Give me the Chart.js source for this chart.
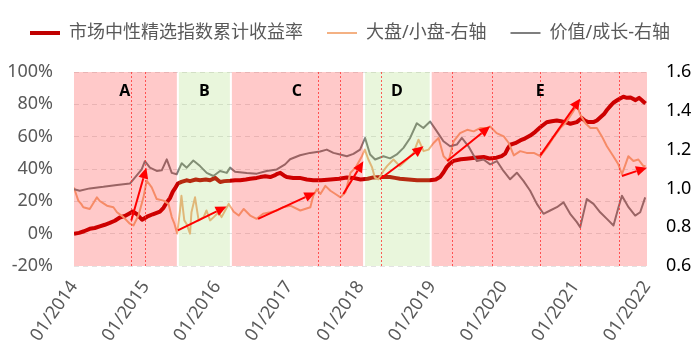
<!DOCTYPE html>
<html><head><meta charset="utf-8">
<script src="https://cdn.jsdelivr.net/npm/chart.js@4/dist/chart.umd.min.js"></script>
<style>html,body{margin:0;padding:0;background:#fff}#wrap{width:700px;height:358px}</style>
</head><body><div id="wrap"><canvas id="c" width="700" height="358"></canvas></div>
<script>
// ---------- DATA ----------
const seriesNames = ['市场中性精选指数累计收益率', '大盘/小盘-右轴', '价值/成长-右轴'];

// 市场中性精选指数累计收益率 (%), left axis
const neutralYears = [2014.00,2014.07,2014.14,2014.22,2014.29,2014.36,2014.43,2014.50,2014.57,2014.64,2014.71,2014.78,2014.82,2014.88,2014.95,2015.02,2015.10,2015.20,2015.25,2015.29,2015.34,2015.38,2015.41,2015.45,2015.50,2015.57,2015.62,2015.70,2015.76,2015.84,2015.90,2015.97,2016.04,2016.10,2016.18,2016.25,2016.32,2016.40,2016.46,2016.55,2016.60,2016.67,2016.74,2016.80,2016.84,2016.88,2016.93,2016.97,2017.06,2017.15,2017.25,2017.34,2017.45,2017.58,2017.70,2017.81,2017.90,2018.00,2018.10,2018.18,2018.30,2018.41,2018.48,2018.55,2018.67,2018.79,2018.90,2018.97,2019.05,2019.11,2019.16,2019.20,2019.25,2019.30,2019.40,2019.48,2019.60,2019.72,2019.80,2019.90,2019.97,2020.02,2020.06,2020.09,2020.16,2020.23,2020.30,2020.37,2020.44,2020.51,2020.60,2020.67,2020.74,2020.80,2020.86,2020.93,2021.02,2021.09,2021.13,2021.18,2021.25,2021.30,2021.35,2021.40,2021.44,2021.49,2021.53,2021.60,2021.67,2021.72,2021.77,2021.84,2021.89,2021.94,2021.98];
const neutralReturns = [0,0.5,1.5,3,3.5,4.5,5.5,6.7,8,10,11,12.7,13.7,12,8.6,10.5,12,13.7,16,19,22,26,28,31,32,33,32.5,33.5,33,33.5,33,34.5,32,32.5,32.7,33,33,33.5,34,34.5,35,35.5,35,36,37,37.6,36,35,34.5,34.5,33.5,33,33,33.5,34,34.8,34.5,33.5,34,34.8,35,35,34.5,34,33.5,33,33,33,33.5,35,38,41,43.5,45,46,46.4,47,47.4,46.5,47,48,49.5,53,55,56,57.7,59,60.7,63,65.8,68.9,69.5,70,69.5,69,68,69,71.6,70,69,69,70,72,74,76.5,79,81,83,84.7,84,84.2,82.6,84,82,80.5];

// 大盘/小盘 ratio, right axis
const sizeYears = [2014.00,2014.03,2014.06,2014.10,2014.13,2014.22,2014.28,2014.32,2014.36,2014.39,2014.46,2014.55,2014.60,2014.69,2014.78,2014.83,2014.90,2014.97,2015.015,2015.085,2015.155,2015.25,2015.32,2015.365,2015.40,2015.44,2015.48,2015.50,2015.54,2015.57,2015.62,2015.64,2015.69,2015.74,2015.81,2015.85,2015.90,2015.95,2016.02,2016.06,2016.11,2016.16,2016.23,2016.30,2016.37,2016.46,2016.55,2016.64,2016.74,2016.83,2016.92,2017.02,2017.16,2017.30,2017.34,2017.39,2017.44,2017.51,2017.58,2017.65,2017.72,2017.79,2017.86,2017.93,2018.02,2018.06,2018.11,2018.16,2018.20,2018.25,2018.32,2018.37,2018.46,2018.55,2018.65,2018.74,2018.81,2018.88,2018.95,2019.02,2019.09,2019.16,2019.23,2019.30,2019.39,2019.49,2019.58,2019.67,2019.76,2019.81,2019.90,2020.00,2020.07,2020.14,2020.23,2020.32,2020.42,2020.51,2020.60,2020.69,2020.79,2020.88,2020.97,2021.02,2021.07,2021.14,2021.21,2021.30,2021.37,2021.44,2021.53,2021.60,2021.65,2021.70,2021.74,2021.81,2021.88,2021.95,2021.98];
const sizeRatio = [1.005,0.97,0.937,0.92,0.903,0.894,0.93,0.954,0.935,0.928,0.911,0.903,0.877,0.852,0.818,0.809,0.86,0.954,1.04,1.005,0.945,0.937,0.92,0.852,0.82,0.767,0.886,0.962,0.835,0.818,0.767,0.877,0.954,0.835,0.852,0.886,0.835,0.852,0.877,0.852,0.886,0.92,0.88,0.86,0.894,0.86,0.843,0.869,0.877,0.886,0.903,0.911,0.886,0.903,0.962,0.996,0.971,1.013,0.988,0.971,0.954,0.98,1.081,1.107,1.166,1.2,1.149,1.11,1.056,1.047,1.09,1.115,1.149,1.115,1.149,1.183,1.251,1.192,1.2,1.234,1.26,1.166,1.14,1.243,1.285,1.302,1.294,1.311,1.311,1.319,1.285,1.268,1.234,1.17,1.192,1.183,1.183,1.166,1.209,1.26,1.311,1.345,1.396,1.43,1.379,1.336,1.311,1.311,1.268,1.217,1.166,1.124,1.073,1.124,1.166,1.141,1.149,1.115,1.115];

// 价值/成长 ratio, right axis
const styleYears = [2014.00,2014.08,2014.22,2014.41,2014.60,2014.78,2014.85,2014.945,2014.99,2015.06,2015.155,2015.225,2015.295,2015.365,2015.434,2015.504,2015.574,2015.666,2015.76,2015.853,2015.946,2016.039,2016.133,2016.179,2016.249,2016.412,2016.552,2016.691,2016.831,2016.947,2017.017,2017.156,2017.296,2017.436,2017.529,2017.622,2017.715,2017.809,2017.901,2017.994,2018.064,2018.134,2018.204,2018.32,2018.413,2018.507,2018.60,2018.693,2018.786,2018.878,2018.972,2019.066,2019.158,2019.251,2019.345,2019.415,2019.507,2019.624,2019.717,2019.81,2019.904,2019.996,2020.089,2020.183,2020.275,2020.369,2020.462,2020.555,2020.648,2020.742,2020.834,2020.927,2021.021,2021.067,2021.16,2021.253,2021.346,2021.44,2021.532,2021.602,2021.65,2021.742,2021.835,2021.905,2021.975];
const styleRatio = [0.996,0.988,1.0,1.008,1.018,1.025,1.056,1.098,1.14,1.107,1.09,1.093,1.15,1.08,1.073,1.13,1.107,1.144,1.115,1.08,1.064,1.09,1.08,1.107,1.086,1.08,1.076,1.09,1.098,1.124,1.15,1.171,1.183,1.19,1.2,1.183,1.175,1.166,1.178,1.2,1.26,1.175,1.149,1.166,1.155,1.175,1.209,1.26,1.336,1.311,1.345,1.294,1.243,1.217,1.226,1.26,1.217,1.141,1.149,1.124,1.141,1.09,1.047,1.081,1.039,0.988,0.92,0.869,0.886,0.903,0.928,0.869,0.826,0.8,0.945,0.92,0.877,0.843,0.809,0.903,0.962,0.903,0.86,0.877,0.954];

// axis ticks
const xTickYears = [2014,2015,2016,2017,2018,2019,2020,2021,2022];
const leftTicks = [-20,0,20,40,60,80,100];
const rightTicks = [0.6,0.8,1.0,1.2,1.4,1.6];

// shaded phases
const bandLabels = ['A','B','C','D','E'];
const bandStarts = [2014.00,2015.45,2016.19,2018.05,2018.98];
const bandEnds   = [2015.45,2016.19,2018.05,2018.98,2022.00];
const bandTypes  = ['red','green','red','green','red'];
const bandLabelYears = [2014.71,2015.82,2017.11,2018.51,2020.51];

// dotted marker dates
const markerYears = [2014.79,2014.99,2017.40,2017.72,2018.29,2019.28,2019.83,2020.50,2021.06,2021.61];

// arrows (right-axis values)
const arrowFromYears = [2014.80,2015.45,2016.57,2017.76,2018.27,2019.21,2020.51,2021.65];
const arrowFromRatio = [0.835,0.784,0.843,0.971,1.047,1.141,1.17,1.064];
const arrowToYears   = [2015.01,2016.13,2017.37,2018.04,2018.88,2019.81,2021.07,2022.00];
const arrowToRatio   = [1.107,0.907,0.979,1.14,1.217,1.32,1.464,1.107];

// ---------- STYLE ----------
const lineColors = ['#C00000', '#F4B183', '#7F7F7F'];
const lineWidths = [4, 2, 2];
const FONT = "'Noto Sans', 'Noto Sans CJK SC', sans-serif";
const LEGEND_EXTRA = 20;

const legendSpacer = {
  id: 'legendSpacer',
  afterInit(chart) {
    const lg = chart.legend;
    if (!lg) return;
    const orig = lg.fit;
    lg.fit = function () { orig.call(this); this.height += LEGEND_EXTRA; };
  }
};

const overlayPlugin = {
  id: 'phases',
  afterDatasetsDraw(chart) {
    const {ctx, chartArea: a, scales} = chart;
    const xs = scales.x, yl = scales.y, yr = scales.y1;
    ctx.save();
    bandStarts.forEach((s, i) => {
      const x0 = xs.getPixelForValue(s) + (i === 0 ? 0 : 1);
      const x1 = xs.getPixelForValue(bandEnds[i]) - (i === bandStarts.length - 1 ? 0 : 1);
      ctx.fillStyle = bandTypes[i] === 'red' ? 'rgba(255,0,0,0.21)' : 'rgba(146,208,80,0.2)';
      ctx.fillRect(x0, a.top, x1 - x0, a.bottom - a.top);
    });
    ctx.strokeStyle = 'rgba(255,40,40,0.75)';
    ctx.lineWidth = 1;
    ctx.setLineDash([2, 2]);
    markerYears.forEach(m => {
      const x = Math.round(xs.getPixelForValue(m)) + 0.5;
      ctx.beginPath(); ctx.moveTo(x, a.top); ctx.lineTo(x, a.bottom); ctx.stroke();
    });
    ctx.setLineDash([]);
    ctx.strokeStyle = '#FF0000'; ctx.fillStyle = '#FF0000'; ctx.lineWidth = 2;
    arrowFromYears.forEach((fx, i) => {
      const x0 = xs.getPixelForValue(fx), y0 = yr.getPixelForValue(arrowFromRatio[i]);
      const x1 = xs.getPixelForValue(arrowToYears[i]), y1 = yr.getPixelForValue(arrowToRatio[i]);
      const ang = Math.atan2(y1 - y0, x1 - x0);
      const hl = 11, hw = 5;
      const bx = x1 - hl * Math.cos(ang), by = y1 - hl * Math.sin(ang);
      ctx.beginPath(); ctx.moveTo(x0, y0); ctx.lineTo(bx, by); ctx.stroke();
      ctx.beginPath();
      ctx.moveTo(x1, y1);
      ctx.lineTo(bx + hw * Math.sin(ang), by - hw * Math.cos(ang));
      ctx.lineTo(bx - hw * Math.sin(ang), by + hw * Math.cos(ang));
      ctx.closePath(); ctx.fill();
    });
    ctx.fillStyle = '#000';
    ctx.font = "bold 16px 'Open Sans', sans-serif";
    ctx.textAlign = 'center'; ctx.textBaseline = 'middle';
    bandLabels.forEach((t, i) => {
      ctx.fillText(t, xs.getPixelForValue(bandLabelYears[i]), yl.getPixelForValue(88));
    });
    ctx.restore();
  }
};

const mk = (xs, ys) => xs.map((x, i) => ({x: x, y: ys[i]}));

new Chart(document.getElementById('c'), {
  type: 'line',
  data: {
    datasets: [
      {label: seriesNames[0], data: mk(neutralYears, neutralReturns), yAxisID: 'y', borderColor: lineColors[0], borderWidth: lineWidths[0], pointRadius: 0, tension: 0, order: 3, borderJoinStyle: 'round'},
      {label: seriesNames[1], data: mk(sizeYears, sizeRatio), yAxisID: 'y1', borderColor: lineColors[1], borderWidth: lineWidths[1], pointRadius: 0, tension: 0, order: 2, borderJoinStyle: 'round'},
      {label: seriesNames[2], data: mk(styleYears, styleRatio), yAxisID: 'y1', borderColor: lineColors[2], borderWidth: lineWidths[2], pointRadius: 0, tension: 0, order: 1, borderJoinStyle: 'round'}
    ]
  },
  options: {
    responsive: false, animation: false, devicePixelRatio: 1,
    layout: {padding: 0},
    font: {family: FONT},
    plugins: {
      tooltip: {enabled: false},
      legend: {
        position: 'top',
        labels: {
          usePointStyle: true, pointStyleWidth: 30, padding: 24, color: '#595959',
          font: {size: 18, family: FONT},
          generateLabels: (chart) => chart.data.datasets.map((ds, i) => ({
            text: ds.label, fillStyle: lineColors[i], strokeStyle: lineColors[i],
            lineWidth: lineWidths[i], pointStyle: 'line', hidden: false, datasetIndex: i, fontColor: '#595959'
          }))
        }
      }
    },
    scales: {
      x: {
        type: 'linear', min: 2014, max: 2022,
        afterBuildTicks: s => { s.ticks = xTickYears.map(v => ({value: v})); },
        afterFit: s => { s.height = 92; },
        grid: {display: false, drawTicks: false},
        border: {display: false},
        ticks: {autoSkip: false, minRotation: 55, maxRotation: 55, padding: 11, color: '#595959',
          font: {size: 18, family: FONT}, callback: v => '01/' + v}
      },
      y: {
        position: 'left', min: -20, max: 100,
        afterBuildTicks: s => { s.ticks = leftTicks.map(v => ({value: v})); },
        afterFit: s => { s.width = 74; },
        grid: {color: '#E3E3E3', drawTicks: false, lineWidth: 1},
        border: {display: false, dash: [5, 4]},
        ticks: {padding: 21, color: '#595959', font: {size: 18, family: FONT}, callback: v => v + '%'}
      },
      y1: {
        position: 'right', min: 0.6, max: 1.6,
        afterBuildTicks: s => { s.ticks = rightTicks.map(v => ({value: v})); },
        afterFit: s => { s.width = 53; },
        grid: {display: false, drawTicks: false},
        border: {display: false},
        ticks: {padding: 19, color: '#000000', font: {size: 18, family: FONT}, callback: v => Number(v).toFixed(1)}
      }
    }
  },
  plugins: [legendSpacer, overlayPlugin]
});
</script>
</body></html>
